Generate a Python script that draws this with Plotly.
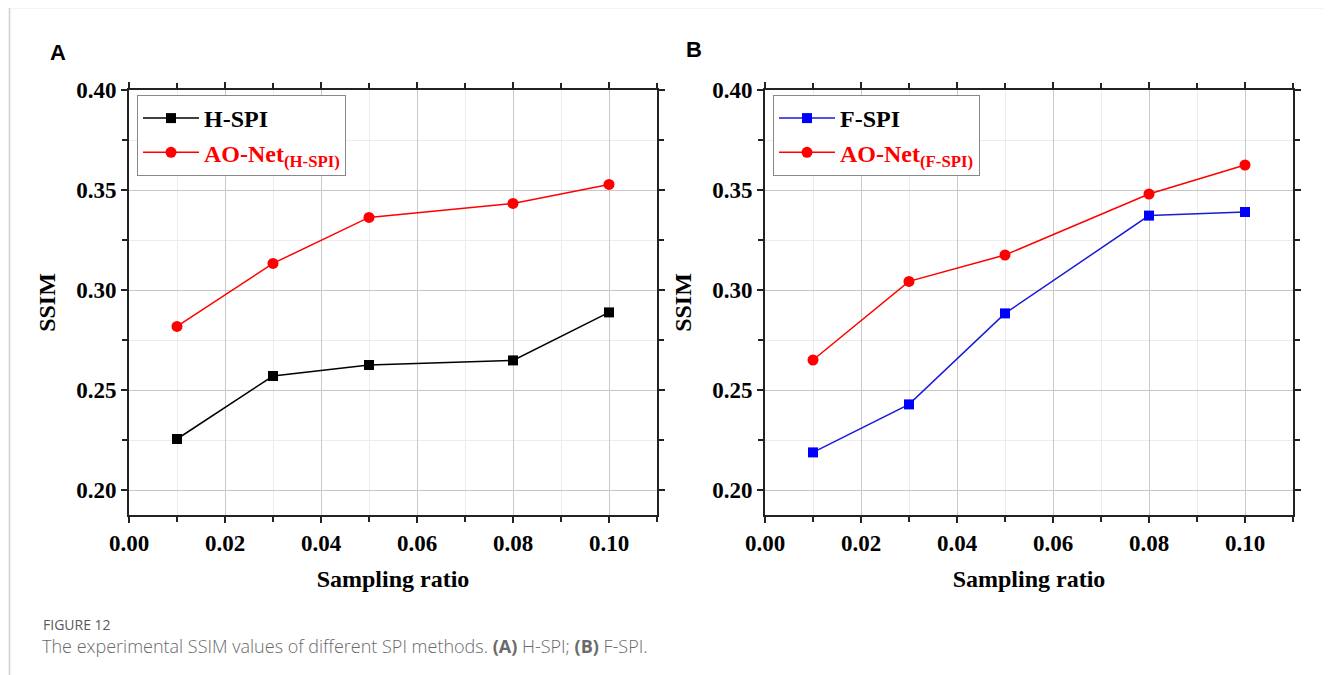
import plotly.graph_objects as go

x_ratio = [0.01, 0.03, 0.05, 0.08, 0.10]
h_spi = [0.2255, 0.257, 0.2625, 0.2648, 0.2888]
ao_h = [0.2818, 0.3133, 0.3363, 0.3433, 0.3528]
f_spi = [0.2188, 0.2428, 0.2883, 0.3372, 0.3390]
ao_f = [0.2650, 0.3043, 0.3175, 0.3480, 0.3625]

W, H = 1331, 675
OFF = 8  # page body margin
def px_x(p): return (p - OFF) / W
def px_y(p): return 1 - (p - OFF) / H

serif = "Liberation Serif, Times New Roman, serif"
fig = go.Figure()

fig.add_trace(go.Scatter(x=x_ratio, y=h_spi, mode="lines+markers", name="H-SPI",
    line=dict(color="black", width=1.5), marker=dict(symbol="square", size=10, color="black"),
    xaxis="x", yaxis="y", legend="legend"))
fig.add_trace(go.Scatter(x=x_ratio, y=ao_h, mode="lines+markers",
    name="<span style='color:red'>AO-Net<sub>(H-SPI)</sub></span>",
    line=dict(color="red", width=1.5), marker=dict(symbol="circle", size=11, color="red"),
    xaxis="x", yaxis="y", legend="legend"))
fig.add_trace(go.Scatter(x=x_ratio, y=f_spi, mode="lines+markers", name="F-SPI",
    line=dict(color="#1a1ad8", width=1.5), marker=dict(symbol="square", size=10, color="#0000ff"),
    xaxis="x2", yaxis="y2", legend="legend2"))
fig.add_trace(go.Scatter(x=x_ratio, y=ao_f, mode="lines+markers",
    name="<span style='color:red'>AO-Net<sub>(F-SPI)</sub></span>",
    line=dict(color="red", width=1.5), marker=dict(symbol="circle", size=11, color="red"),
    xaxis="x2", yaxis="y2", legend="legend2"))

xd_a = [px_x(129), px_x(657)]
xd_b = [px_x(765), px_x(1293)]
yd = [px_y(515), px_y(90)]

def xaxis(domain, anchor):
    return dict(domain=domain, anchor=anchor, range=[0, 0.11], dtick=0.02, tick0=0,
        tickformat=".2f", showline=True, linecolor="#222", linewidth=2, mirror="allticks",
        ticks="outside", ticklen=6, tickwidth=1.5, tickcolor="#222", automargin=False,
        showgrid=True, gridcolor="#c8c8c8", gridwidth=1, zeroline=False,
        minor=dict(dtick=0.01, tick0=0, showgrid=True, gridcolor="#ececec", ticks="outside",
                   ticklen=5, tickcolor="#222"),
        tickfont=dict(family=serif, size=23, color="black", weight="bold"),
        title=dict(text="Sampling ratio", font=dict(family=serif, size=24, color="black", weight="bold"), standoff=16))

def yaxis(domain, anchor):
    return dict(domain=domain, anchor=anchor, range=[0.1875, 0.40], dtick=0.05, tick0=0,
        tickformat=".2f", showline=True, linecolor="#222", linewidth=2, mirror="allticks",
        ticks="outside", ticklen=6, tickwidth=1.5, tickcolor="#222", automargin=False,
        showgrid=True, gridcolor="#c8c8c8", gridwidth=1, zeroline=False,
        minor=dict(dtick=0.025, tick0=0, showgrid=True, gridcolor="#ececec", ticks="outside",
                   ticklen=5, tickcolor="#222"),
        tickfont=dict(family=serif, size=23, color="black", weight="bold"),
        title=dict(text="SSIM", font=dict(family=serif, size=24, color="black", weight="bold"), standoff=14))

leg_common = dict(bgcolor="white", bordercolor="#888", borderwidth=1,
                  font=dict(family=serif, size=24, color="black", weight="bold"),
                  xanchor="left", yanchor="top", tracegroupgap=0, itemwidth=56)

fig.update_layout(
    template="none",
    width=W, height=H, margin=dict(l=0, r=0, t=0, b=0, autoexpand=False),
    paper_bgcolor="white", plot_bgcolor="white",
    xaxis=xaxis(xd_a, "y"), yaxis=yaxis(yd, "x"),
    xaxis2=xaxis(xd_b, "y2"), yaxis2=yaxis(yd, "x2"),
    legend=dict(x=px_x(137), y=px_y(95), **leg_common),
    legend2=dict(x=px_x(773), y=px_y(95), **leg_common),
    showlegend=True,
)

anns = [
    dict(text="<b>A</b>", x=px_x(48), y=px_y(52), font=dict(family="Liberation Sans, Arial", size=22, color="black")),
    dict(text="<b>B</b>", x=px_x(684), y=px_y(50), font=dict(family="Liberation Sans, Arial", size=22, color="black")),
    dict(text="FIGURE 12", x=px_x(41), y=px_y(624), font=dict(family="Open Sans, Noto Sans", size=14, color="#5a5a5a")),
    dict(text="The experimental SSIM values of different SPI methods. <b>(A)</b> H-SPI; <b>(B)</b> F-SPI.",
         x=px_x(40), y=px_y(646), font=dict(family="Open Sans, Noto Sans", size=18, color="#6a6a6a", weight=300)),
]
for a in anns:
    fig.add_annotation(xref="paper", yref="paper", xanchor="left", yanchor="middle",
                       showarrow=False, **a)

fig.add_shape(type="line", xref="paper", yref="paper", x0=px_x(10), x1=1, y0=px_y(7.5), y1=px_y(7.5),
              line=dict(color="#d0d0d0", width=1.5))
fig.add_shape(type="line", xref="paper", yref="paper", x0=px_x(9.5), x1=px_x(9.5), y0=px_y(7.5), y1=0,
              line=dict(color="#d0d0d0", width=1.5))

fig.write_html("out.html")
